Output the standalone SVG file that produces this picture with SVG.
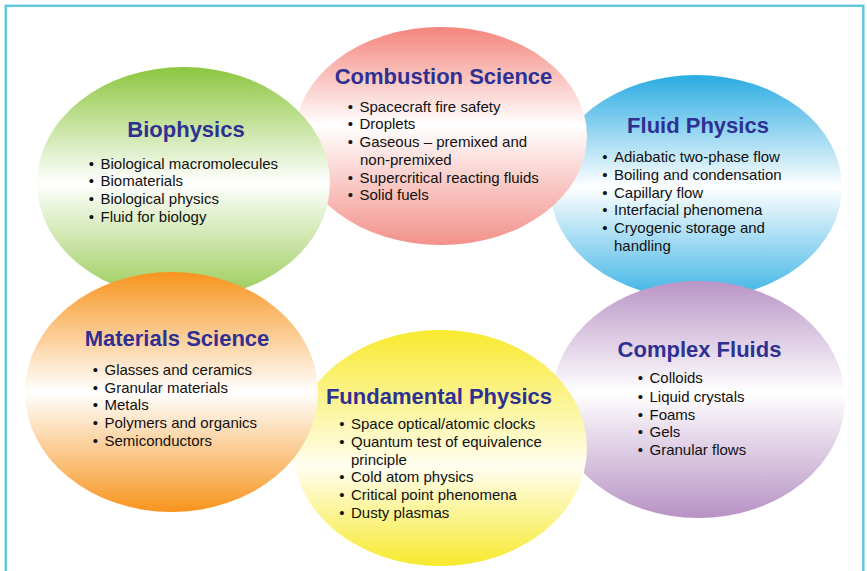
<svg xmlns="http://www.w3.org/2000/svg" width="867" height="571" viewBox="0 0 867 571">
<defs>
<linearGradient id="gBlue" x1="0" y1="0" x2="0" y2="1"><stop offset="0" stop-color="#2aabe2"/><stop offset="0.5" stop-color="#ffffff"/><stop offset="1" stop-color="#3cb3e5"/></linearGradient>
<linearGradient id="gPurple" x1="0" y1="0" x2="0" y2="1"><stop offset="0" stop-color="#b995c6"/><stop offset="0.47" stop-color="#ffffff"/><stop offset="1" stop-color="#b792c4"/></linearGradient>
<linearGradient id="gPink" x1="0" y1="0" x2="0" y2="1"><stop offset="0" stop-color="#f4857c"/><stop offset="0.45" stop-color="#ffffff"/><stop offset="1" stop-color="#f3918a"/></linearGradient>
<linearGradient id="gGreen" x1="0" y1="0" x2="0" y2="1"><stop offset="0" stop-color="#8dc63f"/><stop offset="0.5" stop-color="#ffffff"/><stop offset="1" stop-color="#98cb55"/></linearGradient>
<linearGradient id="gYellow" x1="0" y1="0" x2="0" y2="1"><stop offset="0" stop-color="#f8e92e"/><stop offset="0.58" stop-color="#fffef0"/><stop offset="1" stop-color="#f7e92c"/></linearGradient>
<linearGradient id="gOrange" x1="0" y1="0" x2="0" y2="1"><stop offset="0" stop-color="#f7941d"/><stop offset="0.5" stop-color="#ffffff"/><stop offset="1" stop-color="#f7941d"/></linearGradient>
</defs>
<style>
.title{font-family:"Liberation Sans",Arial,sans-serif;font-weight:bold;font-size:22px;fill:#2e3192;text-anchor:middle}
.item{font-family:"Liberation Sans",Arial,sans-serif;font-size:15px;fill:#111111}
.b{text-anchor:middle}
</style>
<rect x="0" y="0" width="867" height="571" fill="#ffffff"/>
<rect x="5.8" y="5.8" width="857.5" height="600" fill="none" stroke="#62c6e0" stroke-width="2.5"/>

<g id="fluid-physics">
<ellipse cx="696" cy="187" rx="146" ry="112" fill="url(#gBlue)"/>
<text class="title" x="698" y="133">Fluid Physics</text>
<text class="item" y="162"><tspan class="b" x="605">•</tspan><tspan x="614">Adiabatic two-phase flow</tspan></text>
<text class="item" y="180"><tspan class="b" x="605">•</tspan><tspan x="614">Boiling and condensation</tspan></text>
<text class="item" y="198"><tspan class="b" x="605">•</tspan><tspan x="614">Capillary flow</tspan></text>
<text class="item" y="215"><tspan class="b" x="605">•</tspan><tspan x="614">Interfacial phenomena</tspan></text>
<text class="item" y="233"><tspan class="b" x="605">•</tspan><tspan x="614">Cryogenic storage and</tspan></text>
<text class="item" y="251"><tspan x="614">handling</tspan></text>
</g>

<g id="complex-fluids">
<ellipse cx="698.5" cy="399.5" rx="146.5" ry="118.5" fill="url(#gPurple)"/>
<text class="title" x="699.5" y="357">Complex Fluids</text>
<text class="item" y="383"><tspan class="b" x="640.5">•</tspan><tspan x="649.5">Colloids</tspan></text>
<text class="item" y="401.5"><tspan class="b" x="640.5">•</tspan><tspan x="649.5">Liquid crystals</tspan></text>
<text class="item" y="419.5"><tspan class="b" x="640.5">•</tspan><tspan x="649.5">Foams</tspan></text>
<text class="item" y="437"><tspan class="b" x="640.5">•</tspan><tspan x="649.5">Gels</tspan></text>
<text class="item" y="454.5"><tspan class="b" x="640.5">•</tspan><tspan x="649.5">Granular flows</tspan></text>
</g>

<g id="combustion-science">
<ellipse cx="441" cy="136" rx="146" ry="109" fill="url(#gPink)"/>
<text class="title" x="443.5" y="84">Combustion Science</text>
<text class="item" y="111.5"><tspan class="b" x="350.5">•</tspan><tspan x="359.5">Spacecraft fire safety</tspan></text>
<text class="item" y="129"><tspan class="b" x="350.5">•</tspan><tspan x="359.5">Droplets</tspan></text>
<text class="item" y="147"><tspan class="b" x="350.5">•</tspan><tspan x="359.5">Gaseous – premixed and</tspan></text>
<text class="item" y="164.5"><tspan x="360">non-premixed</tspan></text>
<text class="item" y="182.5"><tspan class="b" x="350.5">•</tspan><tspan x="359.5">Supercritical reacting fluids</tspan></text>
<text class="item" y="199.5"><tspan class="b" x="350.5">•</tspan><tspan x="359.5">Solid fuels</tspan></text>
</g>

<g id="biophysics">
<ellipse cx="183.5" cy="183" rx="146.5" ry="116" fill="url(#gGreen)"/>
<text class="title" x="186" y="136.5">Biophysics</text>
<text class="item" y="168.5"><tspan class="b" x="91.5">•</tspan><tspan x="100.5">Biological macromolecules</tspan></text>
<text class="item" y="186"><tspan class="b" x="91.5">•</tspan><tspan x="100.5">Biomaterials</tspan></text>
<text class="item" y="204"><tspan class="b" x="91.5">•</tspan><tspan x="100.5">Biological physics</tspan></text>
<text class="item" y="221.5"><tspan class="b" x="91.5">•</tspan><tspan x="100.5">Fluid for biology</tspan></text>
</g>

<g id="fundamental-physics">
<ellipse cx="440" cy="448" rx="147" ry="118" fill="url(#gYellow)"/>
<text class="title" x="439" y="404">Fundamental Physics</text>
<text class="item" y="428.5"><tspan class="b" x="342">•</tspan><tspan x="351">Space optical/atomic clocks</tspan></text>
<text class="item" y="446.5"><tspan class="b" x="342">•</tspan><tspan x="351">Quantum test of equivalence</tspan></text>
<text class="item" y="464.5"><tspan x="351">principle</tspan></text>
<text class="item" y="482"><tspan class="b" x="342">•</tspan><tspan x="351">Cold atom physics</tspan></text>
<text class="item" y="499.5"><tspan class="b" x="342">•</tspan><tspan x="351">Critical point phenomena</tspan></text>
<text class="item" y="517.5"><tspan class="b" x="342">•</tspan><tspan x="351">Dusty plasmas</tspan></text>
</g>

<g id="materials-science">
<ellipse cx="171.5" cy="392" rx="146.5" ry="120" fill="url(#gOrange)"/>
<text class="title" x="177" y="346">Materials Science</text>
<text class="item" y="374.5"><tspan class="b" x="95.5">•</tspan><tspan x="104.5">Glasses and ceramics</tspan></text>
<text class="item" y="392.5"><tspan class="b" x="95.5">•</tspan><tspan x="104.5">Granular materials</tspan></text>
<text class="item" y="410"><tspan class="b" x="95.5">•</tspan><tspan x="104.5">Metals</tspan></text>
<text class="item" y="428"><tspan class="b" x="95.5">•</tspan><tspan x="104.5">Polymers and organics</tspan></text>
<text class="item" y="445.5"><tspan class="b" x="95.5">•</tspan><tspan x="104.5">Semiconductors</tspan></text>
</g>

<g id="connectors"></g>
</svg>
